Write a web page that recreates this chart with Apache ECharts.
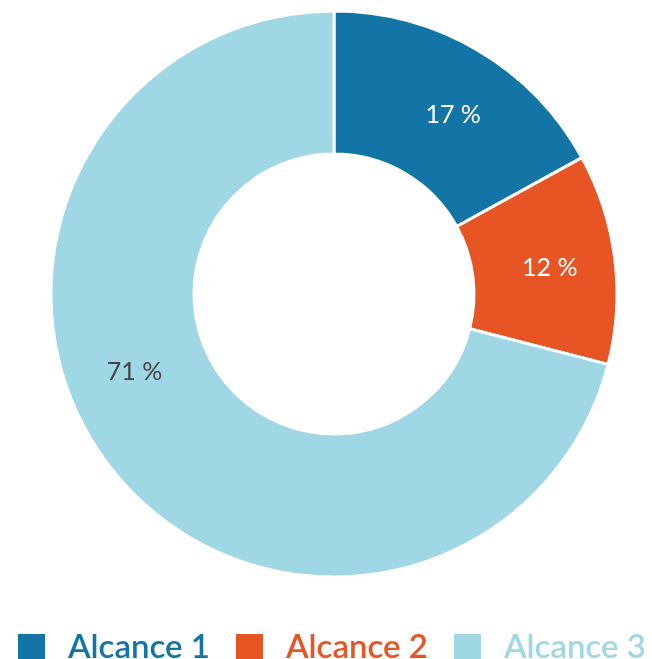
<!DOCTYPE html>
<html>
<head>
<meta charset="utf-8">
<script src="https://cdn.jsdelivr.net/npm/echarts@6/dist/echarts.min.js"></script>
<style>
  html, body { margin: 0; padding: 0; background: #fff; }
  #chart { width: 652px; height: 659px; }
</style>
</head>
<body>
<div id="chart"></div>
<script>
  // datos
  var categories = ['Alcance 1', 'Alcance 2', 'Alcance 3'];
  var values = [17, 12, 71];
  var colors = ['#1374A6', '#E85524', '#A0D7E5'];
  var labelColors = ['#ffffff', '#ffffff', '#444444'];

  // ajuste fino de etiquetas
  var labelShift = [[10, 6], [3, 1], [-30, -54]];

  var chart = echarts.init(document.getElementById('chart'));

  var pieData = categories.map(function (name, i) {
    return {
      name: name,
      value: values[i],
      itemStyle: { color: colors[i] },
      label: { color: labelColors[i] }
    };
  });

  var legendData = categories.map(function (name, i) {
    return { name: name, textStyle: { color: colors[i] } };
  });

  chart.setOption({
    animation: false,
    legend: {
      data: legendData,
      left: 18,
      top: 631,
      padding: 0,
      icon: 'rect',
      itemWidth: 27,
      itemHeight: 27,
      itemGap: 26,
      itemStyle: { borderWidth: 0 },
      textStyle: {
        fontFamily: 'Lato',
        fontSize: 33,
        fontWeight: 600,
        lineHeight: 27,
        padding: [4, 0, 0, 18]
      }
    },
    series: [{
      type: 'pie',
      center: [334, 294],
      radius: [140, 283],
      startAngle: 90,
      clockwise: true,
      data: pieData,
      itemStyle: { borderColor: '#fff', borderWidth: 3 },
      label: {
        position: 'inside',
        formatter: '{c} %',
        fontFamily: 'Lato',
        fontSize: 25,
        fontWeight: 400
      },
      labelLine: { show: false },
      labelLayout: function (p) {
        var s = labelShift[p.dataIndex];
        return { dx: s[0], dy: s[1] };
      },
      emphasis: { disabled: true }
    }]
  });
</script>
</body>
</html>
